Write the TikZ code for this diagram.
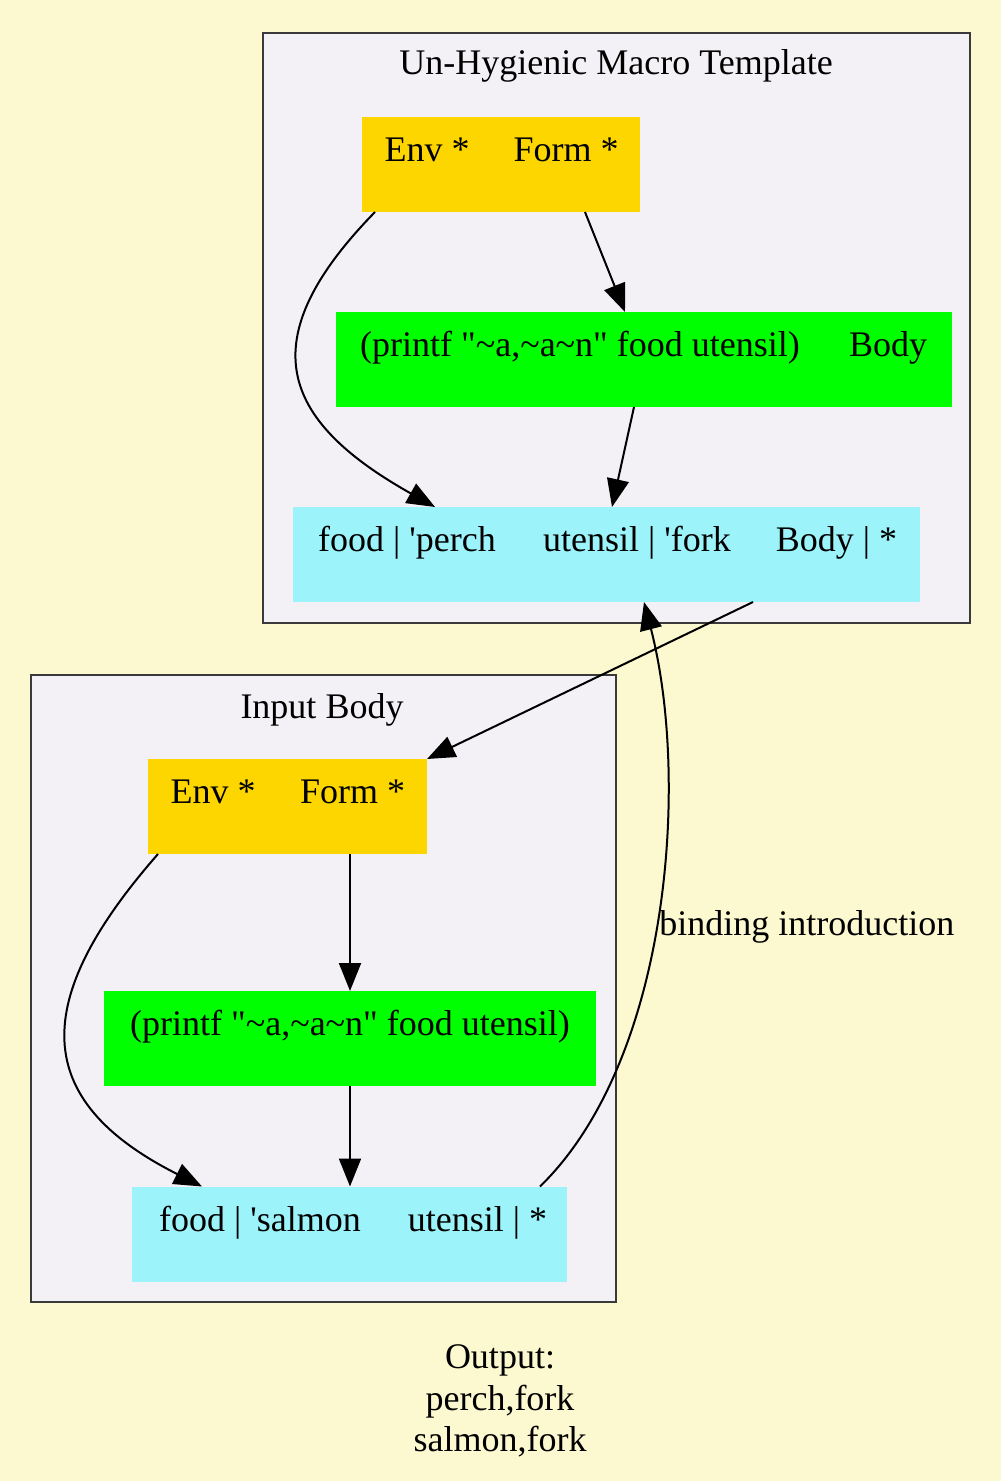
\documentclass[tikz,border=0pt]{standalone}
\usepackage{fontspec}
\setmainfont{Liberation Serif}
\usetikzlibrary{positioning}
\usetikzlibrary{arrows.meta}
\usetikzlibrary{calc}

\definecolor{bgyellow}{HTML}{FCF8CF}
\definecolor{clusterfill}{HTML}{F3F1F5}
\definecolor{clusterline}{HTML}{3A3A3A}
\definecolor{envgold}{HTML}{FDD600}
\definecolor{codegreen}{HTML}{00FF00}
\definecolor{bindcyan}{HTML}{9CF4FA}

\begin{document}
\begin{tikzpicture}[x=0.5pt, y=-0.5pt, font=\fontsize{18}{20.75}\selectfont,
  field/.style={rectangle, inner sep=0pt, outer sep=0pt, minimum height=47.5pt, text height=12pt, text depth=15pt},
  env/.style={field, fill=envgold},
  code/.style={field, fill=codegreen},
  bind/.style={field, fill=bindcyan},
  cluster/.style={draw=clusterline, line width=1pt, fill=clusterfill},
  edge/.style={draw=black, line width=1pt, -{Triangle[length=14pt, width=11pt]}}]
        % Define the tilde and quote used in the format string
        \def\tld{\textasciitilde}
        \def\dq{\textquotedbl}

        % Draw the background
        \fill[bgyellow] (0,0) rectangle (1001,1481);
        \useasboundingbox (0,0) rectangle (1001,1481);

        % Draw the two clusters
        \draw[cluster] (263,33) rectangle (970,623);
        \node[anchor=base] (tmplTitle) at (616,75) {Un-Hygienic Macro Template};
        \draw[cluster] (31,675) rectangle (616,1302);
        \node[anchor=base] (inputTitle) at (322,718) {Input Body};

        % Records of the macro template
        \node[env, minimum width=65pt] (envA) at (427,164.5) {Env *};
        \node[env, minimum width=74pt, right=0pt of envA] (formA) {Form *};
        \node[code, minimum width=244pt] (printA) at (580,359.5) {(printf \dq\tld a,\tld a\tld n\dq{} food utensil)};
        \node[code, minimum width=64pt, right=0pt of printA] (bodyA) {Body};
        \node[bind, minimum width=114pt] (foodA) at (407,554.5) {food | \textquotesingle perch};
        \node[bind, minimum width=116pt, right=0pt of foodA] (utenA) {utensil | \textquotesingle fork};
        \node[bind, minimum width=83.5pt, right=0pt of utenA] (bodyStarA) {Body | *};

        % Records of the input body
        \node[env, minimum width=65pt] (envB) at (213,806.5) {Env *};
        \node[env, minimum width=74.5pt, right=0pt of envB] (formB) {Form *};
        \node[code, minimum width=246pt] (printB) at (350,1038.5) {(printf \dq\tld a,\tld a\tld n\dq{} food utensil)};
        \node[bind, minimum width=128pt] (foodB) at (260,1234) {food | \textquotesingle salmon};
        \node[bind, minimum width=89.5pt, right=0pt of foodB] (utenB) {utensil | *};

        % Output text and edge label
        \node[align=center] (output) at (500,1401) {Output:\\perch,fork\\salmon,fork};
        \node[anchor=base west, inner sep=0pt] (bindLbl) at (659,935) {binding introduction};

        % Edges inside the template
        \draw[edge] ([xshift=-26pt]envA.south) .. controls (250,340) and (280,420) .. ([xshift=14pt]foodA.north);
        \draw[edge] ([xshift=9.5pt]formA.south) -- ([xshift=22.5pt]printA.north);
        \draw[edge] ([xshift=27pt]printA.south) -- ([xshift=-12.5pt]utenA.north);

        % Edges between the clusters
        \draw[edge] (bodyStarA.south west) -- (formB.north east);
        \draw[edge] ([xshift=31.25pt]utenB.north) .. controls (670,1060) and (690,780) .. ([xshift=3.5pt]utenA.south);

        % Edges inside the input body
        \draw[edge] ([xshift=-27.5pt]envB.south) .. controls (30,1000) and (30,1100) .. ([xshift=-29pt]foodB.north);
        \draw[edge] (formB.south -| printB.north) -- (printB.north);
        \draw[edge] (printB.south) -- (printB.south |- foodB.north);
      \end{tikzpicture}
\end{document}
